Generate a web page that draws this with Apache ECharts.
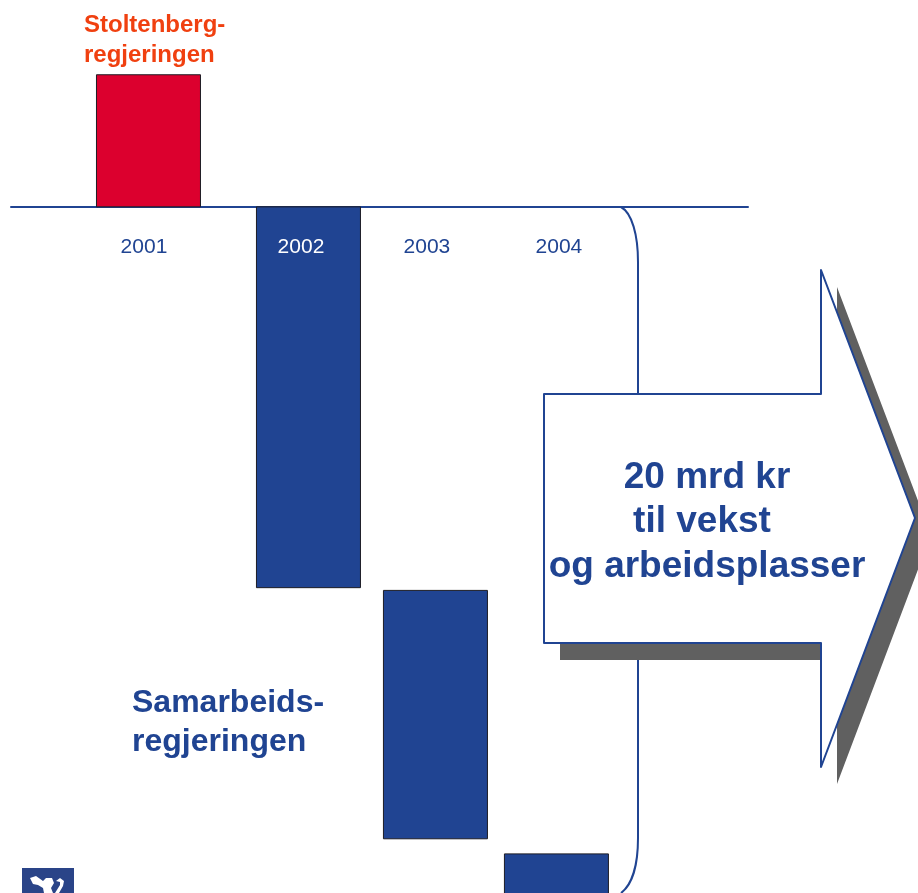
<!DOCTYPE html>
<html>
<head>
<meta charset="utf-8">
<style>
    html, body { margin: 0; padding: 0; background: #fff; }
    #chart { width: 918px; height: 893px; overflow: hidden; }
</style>
</head>
<body>
<div id="chart"></div>
<script src="https://cdn.jsdelivr.net/npm/echarts@6/dist/echarts.min.js"></script>
<script>
const years = [2001, 2002, 2003, 2004]
// floating bars, in mrd kr relative to the baseline
const barTop = [3.85, 0, -11.18, -18.86]
const barBottom = [0, -11.1, -18.42, -20.3]
const barColors = ['#dc002e', '#204492', '#204492', '#204492']
const yearLabelColors = ['#204492', '#ffffff', '#204492', '#204492']

// the bars and year labels are not evenly spaced in the slide
const barNudge = [1, 24.5, 15, -0.5]
const labelNudge = [-3.5, 17, 6.5, 2]

const BLUE = '#204492'
const FONT = '"Liberation Sans", Arial, sans-serif'

const arrow = [[544, 394], [821, 394], [821, 270], [915, 518], [821, 767], [821, 643], [544, 643]]
const arrowShadow = arrow.map((p) => [p[0] + 16, p[1] + 17])

function label(text, x, y, size, color, bold, align) {
    return {
        type: 'text',
        z: 20,
        style: {
            text: text,
            x: x,
            y: y,
            fill: color,
            font: (bold ? 'bold ' : '') + size + 'px ' + FONT,
            align: align || 'left',
            verticalAlign: 'middle',
        },
    }
}

const bracketStyle = { fill: null, stroke: BLUE, lineWidth: 2 }

const option = {
    animation: false,
    backgroundColor: '#fff',
    grid: { left: 11, right: 170, top: 1, bottom: 0 },
    xAxis: {
        type: 'value',
        min: 2000,
        max: 2005.4,
        splitLine: { show: false },
        axisTick: { show: false },
        axisLabel: { show: false },
        axisLine: { show: true, onZero: true, lineStyle: { color: BLUE, width: 2 } },
    },
    yAxis: {
        type: 'value',
        min: -20,
        max: 6,
        show: false,
    },
    series: [
        {
            type: 'custom',
            clip: false,
            z: 5,
            data: years.map((y, i) => [y, barTop[i], barBottom[i]]),
            renderItem: (params, api) => {
                const i = params.dataIndex
                const top = api.coord([api.value(0), api.value(1)])
                const bottom = api.coord([api.value(0), api.value(2)])
                const cx = top[0] + barNudge[i]
                const zero = api.coord([api.value(0), 0])[1]
                return {
                    type: 'group',
                    children: [
                        {
                            type: 'rect',
                            shape: { x: cx - 52, y: top[1], width: 104, height: bottom[1] - top[1] },
                            style: { fill: barColors[i], stroke: '#1c1c24', lineWidth: 1 },
                        },
                        {
                            type: 'text',
                            style: {
                                text: String(api.value(0)),
                                x: top[0] + labelNudge[i],
                                y: zero + 40,
                                fill: yearLabelColors[i],
                                font: '21px ' + FONT,
                                align: 'center',
                                verticalAlign: 'middle',
                            },
                        },
                    ],
                }
            },
        },
    ],
    graphic: [
        // bracket runs behind the arrow
        {
            type: 'bezierCurve',
            z: 10,
            shape: { x1: 621, y1: 207, cpx1: 632, cpy1: 213, cpx2: 638, cpy2: 235, x2: 638, y2: 262 },
            style: bracketStyle,
        },
        {
            type: 'line',
            z: 10,
            shape: { x1: 638, y1: 262, x2: 638, y2: 838 },
            style: bracketStyle,
        },
        {
            type: 'bezierCurve',
            z: 10,
            shape: { x1: 638, y1: 838, cpx1: 638, cpy1: 865, cpx2: 632, cpy2: 885, x2: 621, y2: 893 },
            style: bracketStyle,
        },
        {
            type: 'polygon',
            z: 11,
            shape: { points: arrowShadow },
            style: { fill: '#606060' },
        },
        {
            type: 'polygon',
            z: 12,
            shape: { points: arrow },
            style: { fill: '#ffffff', stroke: BLUE, lineWidth: 2, lineJoin: 'round' },
        },
        label('20 mrd kr', 707, 478, 37, BLUE, true, 'center'),
        label('til vekst', 702, 522, 37, BLUE, true, 'center'),
        label('og arbeidsplasser', 707, 567, 37, BLUE, true, 'center'),
        label('Stoltenberg-', 84, 25, 24, '#f04010', true),
        label('regjeringen', 84, 55, 24, '#f04010', true),
        label('Samarbeids-', 132, 703, 32, BLUE, true),
        label('regjeringen', 132, 742, 32, BLUE, true),
        // government logo, cut off by the slide edge
        {
            type: 'rect',
            z: 10,
            shape: { x: 22, y: 868, width: 52, height: 30 },
            style: { fill: '#2a4488' },
        },
        {
            type: 'polygon',
            z: 11,
            shape: { points: [[30, 878], [36, 876], [43, 881], [46, 878], [52, 878], [54, 883], [51, 888], [53, 893], [44, 893], [43, 888], [38, 885], [33, 884]] },
            style: { fill: '#ffffff' },
        },
        {
            type: 'polygon',
            z: 11,
            shape: { points: [[56, 881], [60, 878], [64, 881], [63, 886], [59, 893], [55, 893], [60, 885], [60, 882]] },
            style: { fill: '#ffffff' },
        },
    ],
}

const chart = echarts.init(document.getElementById('chart'))
chart.setOption(option)
</script>
</body>
</html>
